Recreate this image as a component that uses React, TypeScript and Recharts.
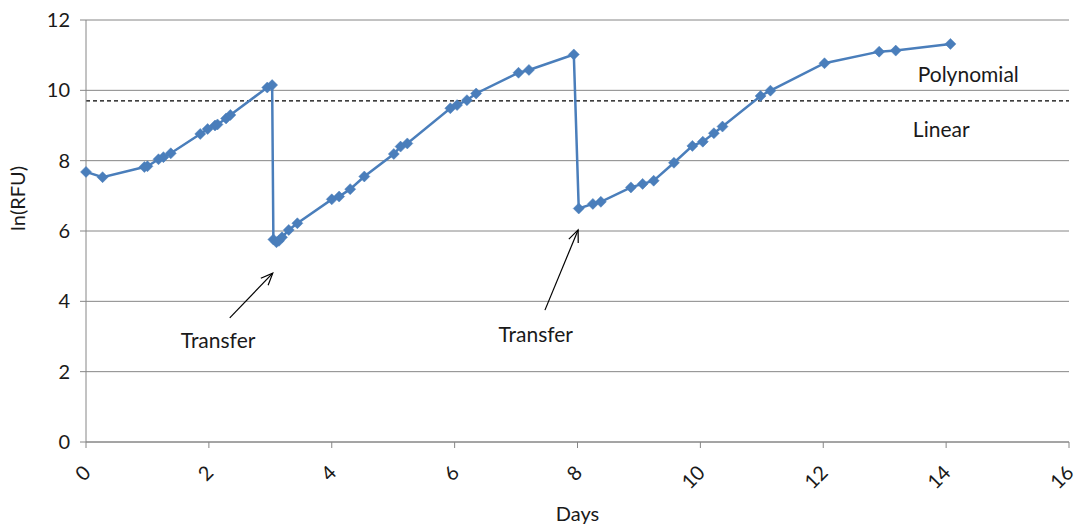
import {
  LineChart,
  Line,
  XAxis,
  YAxis,
  CartesianGrid,
  ReferenceLine,
  ReferenceDot,
} from "recharts";

const BLUE = "#4A7EBB";
const GRID = "#868686";
const INK = "#1a1a1a";
const FONT = "Lato, 'Open Sans', sans-serif";

// sampling times (days) and log fluorescence readings
const days = [
  0, 0.27, 0.95, 1.0, 1.18, 1.26, 1.38, 1.86, 1.98, 2.1, 2.14, 2.28, 2.35, 2.95, 3.03,
  3.05, 3.1, 3.14, 3.19, 3.3, 3.44, 4.0, 4.12, 4.3, 4.53, 5.01, 5.12, 5.23, 5.93, 6.04,
  6.2, 6.35, 7.04, 7.21, 7.94,
  8.02, 8.25, 8.38, 8.87, 9.06, 9.24, 9.57, 9.87, 10.04, 10.22, 10.36, 10.98, 11.14,
  12.02, 12.91, 13.18, 14.07,
];
const lnRfu = [
  7.68, 7.53, 7.82, 7.84, 8.04, 8.1, 8.21, 8.76, 8.9, 9.0, 9.03, 9.2, 9.3, 10.08, 10.15,
  5.76, 5.68, 5.72, 5.82, 6.03, 6.22, 6.9, 6.98, 7.19, 7.55, 8.19, 8.4, 8.49, 9.49, 9.58,
  9.72, 9.91, 10.5, 10.58, 11.02,
  6.64, 6.77, 6.83, 7.24, 7.34, 7.43, 7.94, 8.42, 8.54, 8.78, 8.97, 9.84, 9.99,
  10.77, 11.1, 11.13, 11.32,
];

const xTicks = [0, 2, 4, 6, 8, 10, 12, 14, 16];
const yTicks = [0, 2, 4, 6, 8, 10, 12];

const thresholdLevel = 9.7;

// transfer arrows: [tailX, tailY, headX, headY]
const transferArrows = [
  [2.34, 3.53, 3.04, 4.8],
  [7.47, 3.75, 8.01, 6.03],
];
const transferLabels = [
  [2.15, 2.87],
  [7.32, 3.04],
];
const fitLabels: [string, number, number][] = [
  ["Polynomial", 14.36, 10.46],
  ["Linear", 13.92, 8.87],
];

const data = days.map((d, i) => ({ day: d, value: lnRfu[i] }));

function Diamond(props: any) {
  const { cx, cy } = props;
  if (cx == null || cy == null) return null;
  const r = 5.5;
  return (
    <polygon
      points={`${cx},${cy - r} ${cx + r},${cy} ${cx},${cy + r} ${cx - r},${cy}`}
      fill={BLUE}
      stroke={BLUE}
      strokeWidth={0.5}
    />
  );
}

function Arrow(props: any) {
  const { x1, y1, x2, y2 } = props;
  const ang = Math.atan2(y2 - y1, x2 - x1);
  const len = 13;
  const spread = 0.4;
  const ax = x2 - len * Math.cos(ang - spread);
  const ay = y2 - len * Math.sin(ang - spread);
  const bx = x2 - len * Math.cos(ang + spread);
  const by = y2 - len * Math.sin(ang + spread);
  return (
    <g stroke="#000" strokeWidth={1.2} fill="none">
      <line x1={x1} y1={y1} x2={x2} y2={y2} />
      <polyline points={`${ax},${ay} ${x2},${y2} ${bx},${by}`} />
    </g>
  );
}

// rotated day labels, end of the text sitting under the tick
function XTick(props: any) {
  const { x, y, payload } = props;
  return (
    <g transform={`translate(${x + 1},${y + 19})`}>
      <text
        transform="rotate(-45)"
        textAnchor="end"
        dy="0.35em"
        fontFamily={FONT}
        fontSize={20}
        fill={INK}
      >
        {payload.value}
      </text>
    </g>
  );
}

const textShape = (label: string, size: number) => (p: any) => (
  <text
    x={p.cx}
    y={p.cy}
    textAnchor="middle"
    dy="0.35em"
    fontFamily={FONT}
    fontSize={size}
    fill={INK}
  >
    {label}
  </text>
);

export default function App() {
  return (
    <div style={{ position: "absolute", left: 0, top: 0, background: "#fff" }}>
      <LineChart
        width={1077}
        height={527}
        data={data}
        margin={{ top: 20, right: 8, left: 0, bottom: 0 }}
      >
        <CartesianGrid vertical={false} stroke={GRID} strokeWidth={1} />
        <XAxis
          dataKey="day"
          type="number"
          domain={[0, 16]}
          ticks={xTicks}
          height={85}
          stroke={GRID}
          tickSize={6}
          tick={<XTick />}
          label={{
            value: "Days",
            position: "insideBottom",
            offset: 6,
            fontFamily: FONT,
            fontSize: 20,
            fill: INK,
          }}
        />
        <YAxis
          type="number"
          domain={[0, 12]}
          ticks={yTicks}
          width={86}
          stroke={GRID}
          tickSize={6}
          tickMargin={10}
          tick={{ fontFamily: FONT, fontSize: 20, fill: INK }}
          label={{
            value: "ln(RFU)",
            angle: -90,
            position: "insideLeft",
            offset: 18,
            fontFamily: FONT,
            fontSize: 20,
            fill: INK,
          }}
        />
        <ReferenceLine
          y={thresholdLevel}
          stroke="#000"
          strokeWidth={1.2}
          strokeDasharray="4 3"
        />
        {transferArrows.map((a, i) => (
          <ReferenceLine
            key={`arrow-${i}`}
            segment={[
              { x: a[0], y: a[1] },
              { x: a[2], y: a[3] },
            ]}
            shape={<Arrow />}
          />
        ))}
        {transferLabels.map((t, i) => (
          <ReferenceDot
            key={`transfer-${i}`}
            x={t[0]}
            y={t[1]}
            r={0}
            shape={textShape("Transfer", 21)}
          />
        ))}
        {fitLabels.map(([label, x, y]) => (
          <ReferenceDot key={label} x={x} y={y} r={0} shape={textShape(label, 21)} />
        ))}
        <Line
          dataKey="value"
          stroke={BLUE}
          strokeWidth={2.5}
          dot={<Diamond />}
          activeDot={false}
          isAnimationActive={false}
        />
      </LineChart>
    </div>
  );
}
